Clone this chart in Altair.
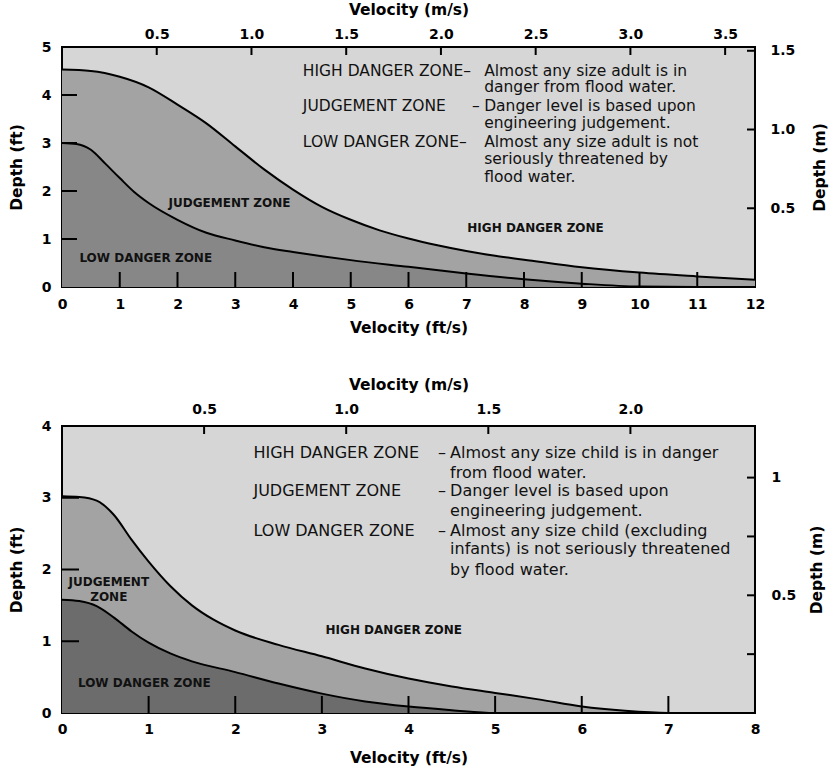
import altair as alt
import pandas as pd

FT_PER_M = 3.28084

# ---------------- data ----------------
# Adult chart (top)
adult_upper_v = [0, 0.5, 1, 1.5, 2, 2.5, 3, 3.5, 4, 4.5, 5, 5.5, 6, 6.5, 7, 7.5, 8, 9, 10, 11, 12]
adult_upper_d = [4.53, 4.50, 4.38, 4.16, 3.80, 3.41, 2.93, 2.45, 2.03, 1.67, 1.40, 1.18, 1.01, 0.87, 0.75,
                 0.65, 0.57, 0.41, 0.30, 0.22, 0.15]
adult_lower_v = [0, 0.25, 0.5, 0.75, 1, 1.25, 1.5, 2, 2.5, 3, 3.5, 4, 4.5, 5, 6, 7, 8, 9, 10, 11, 12]
adult_lower_d = [3.00, 2.98, 2.86, 2.57, 2.27, 1.98, 1.75, 1.40, 1.13, 0.97, 0.83, 0.73, 0.64, 0.56, 0.42,
                 0.28, 0.16, 0.07, 0.01, 0.0, 0.0]

# Child chart (bottom)
child_upper_v = [0, 0.2, 0.4, 0.6, 0.8, 1.0, 1.25, 1.5, 1.75, 2.0, 2.5, 3.0, 3.5, 4.0, 4.5, 5.0, 5.5, 6.0, 6.5, 7.0, 8.0]
child_upper_d = [3.02, 3.01, 2.96, 2.76, 2.42, 2.11, 1.77, 1.50, 1.30, 1.15, 0.95, 0.79, 0.62, 0.48, 0.37,
                 0.28, 0.19, 0.09, 0.03, 0.0, 0.0]
child_lower_v = [0, 0.2, 0.4, 0.6, 0.8, 1.0, 1.25, 1.5, 2.0, 2.5, 3.0, 3.5, 4.0, 4.5, 5.0, 8.0]
child_lower_d = [1.58, 1.56, 1.49, 1.33, 1.14, 0.98, 0.83, 0.72, 0.57, 0.41, 0.27, 0.16, 0.09, 0.04, 0.0, 0.0]

# tick values
adult_x_ticks = list(range(0, 13))
adult_y_ticks = [0, 1, 2, 3, 4, 5]
adult_ms_ticks = [0.5, 1.0, 1.5, 2.0, 2.5, 3.0, 3.5]
adult_m_ticks = [0.5, 1.0, 1.5]

child_x_ticks = list(range(0, 9))
child_y_ticks = [0, 1, 2, 3, 4]
child_ms_ticks = [0.5, 1.0, 1.5, 2.0]
child_m_ticks = [0.25, 0.5, 0.75, 1.0]

# text
zone_names = ["HIGH DANGER ZONE", "JUDGEMENT ZONE", "LOW DANGER ZONE"]
adult_desc = ["Almost any size adult is in", "danger from flood water.",
              "Danger level is based upon", "engineering judgement.",
              "Almost any size adult is not", "seriously threatened by", "flood water."]
child_desc = ["Almost any size child is in danger", "from flood water.",
              "Danger level is based upon", "engineering judgement.",
              "Almost any size child (excluding", "infants) is not seriously threatened",
              "by flood water."]

# ---------------- styles ----------------
LIGHT = "#d6d6d6"
MID = "#a3a3a3"
FONT = "DejaVu Sans"


def panel(W, H, xmax, ymax, up_v, up_d, lo_v, lo_d, low_color,
          x_ticks, y_ticks, ms_ticks, m_ticks, m_label_expr,
          texts, zone_labels, txt_size, tick_len_b, tick_len_l, pads):
    XS = alt.Scale(domain=[0, xmax], nice=False, zero=True)
    YS = alt.Scale(domain=[0, ymax], nice=False, zero=True)

    up = pd.DataFrame({"v": up_v, "d": up_d})
    lo = pd.DataFrame({"v": lo_v, "d": lo_d})

    bottom_axis = alt.Axis(orient="bottom", values=x_ticks, format="d", title="Velocity (ft/s)",
                           labelPadding=pads["b_lp"], titlePadding=pads["b_tp"])
    left_axis = alt.Axis(orient="left", values=y_ticks, format="d", title="Depth (ft)",
                         labelPadding=pads["l_lp"], titlePadding=pads["l_tp"])
    top_axis = alt.Axis(orient="top", values=[m * FT_PER_M for m in ms_ticks],
                        labelExpr="format(datum.value / 3.28084, '.1f')",
                        title="Velocity (m/s)", labelPadding=pads["t_lp"], titlePadding=pads["t_tp"])
    right_axis = alt.Axis(orient="right", values=[m * FT_PER_M for m in m_ticks],
                          labelExpr=m_label_expr, title="Depth (m)", titleAngle=270,
                          labelPadding=pads["r_lp"], titlePadding=pads["r_tp"])

    judg_area = alt.Chart(up).mark_area(color=MID, interpolate="monotone").encode(
        x=alt.X("v:Q", scale=XS, axis=bottom_axis),
        y=alt.Y("d:Q", scale=YS, axis=left_axis),
    )
    judg_line = alt.Chart(up).mark_line(color="black", strokeWidth=2, interpolate="monotone").encode(
        x=alt.X("v:Q", scale=XS, axis=None),
        y=alt.Y("d:Q", scale=YS, axis=None),
    )
    low_area = alt.Chart(lo).mark_area(color=low_color, interpolate="monotone").encode(
        x=alt.X("v:Q", scale=XS, axis=None),
        y=alt.Y("d:Q", scale=YS, axis=None),
    )
    low_line = alt.Chart(lo).mark_line(color="black", strokeWidth=2, interpolate="monotone").encode(
        x=alt.X("v:Q", scale=XS, axis=None),
        y=alt.Y("d:Q", scale=YS, axis=None),
    )
    inner_x = [t for t in x_ticks if 0 < t < xmax]
    inner_y = [t for t in y_ticks if 0 < t < ymax]
    b_ticks = alt.Chart(pd.DataFrame({"t": inner_x})).mark_rule(color="black", strokeWidth=2).encode(
        x=alt.X("t:Q", scale=XS, axis=None),
        y=alt.value(H), y2=alt.value(H - tick_len_b),
    )
    l_ticks = alt.Chart(pd.DataFrame({"t": inner_y})).mark_rule(color="black", strokeWidth=2).encode(
        y=alt.Y("t:Q", scale=YS, axis=None),
        x=alt.value(0), x2=alt.value(tick_len_l),
    )
    t_ticks = alt.Chart(pd.DataFrame({"t": ms_ticks})).transform_calculate(
        ft="datum.t * 3.28084").mark_rule(color="black", strokeWidth=2).encode(
        x=alt.X("ft:Q", scale=XS, axis=top_axis),
        y=alt.value(0), y2=alt.value(8),
    )
    r_ticks = alt.Chart(pd.DataFrame({"t": m_ticks})).transform_calculate(
        ft="datum.t * 3.28084").mark_rule(color="black", strokeWidth=2).encode(
        y=alt.Y("ft:Q", scale=YS, axis=right_axis),
        x=alt.value(W), x2=alt.value(W - 8),
    )
    txt = alt.Chart(pd.DataFrame(texts)).mark_text(
        align="left", baseline="middle", font=FONT, fontSize=txt_size, color="#111"
    ).encode(
        x=alt.X("v:Q", scale=XS, axis=None),
        y=alt.Y("d:Q", scale=YS, axis=None),
        text="text:N",
    )
    zones = alt.Chart(pd.DataFrame(zone_labels)).mark_text(
        align="center", baseline="middle", font=FONT, fontSize=12, fontWeight="bold", color="#111"
    ).encode(
        x=alt.X("v:Q", scale=XS, axis=None),
        y=alt.Y("d:Q", scale=YS, axis=None),
        text="text:N",
    )
    return alt.layer(
        judg_area, low_area, judg_line, low_line, b_ticks, l_ticks, t_ticks, r_ticks, txt, zones
    ).resolve_scale(x="independent", y="independent").properties(width=W, height=H)


# ---------- annotation layout (data units) ----------
a_rows = [4.51, 4.16, 3.77, 3.42, 3.02, 2.67, 2.30]
adult_texts = (
    [{"v": 4.17, "d": a_rows[0], "text": zone_names[0] + "–"},
     {"v": 4.17, "d": a_rows[2], "text": zone_names[1]},
     {"v": 7.10, "d": a_rows[2], "text": "–"},
     {"v": 4.17, "d": a_rows[4], "text": zone_names[2] + "–"}]
    + [{"v": 7.31, "d": a_rows[i], "text": adult_desc[i]} for i in range(7)]
)
adult_zones = [
    {"v": 2.90, "d": 1.74, "text": "JUDGEMENT ZONE"},
    {"v": 8.20, "d": 1.22, "text": "HIGH DANGER ZONE"},
    {"v": 1.45, "d": 0.60, "text": "LOW DANGER ZONE"},
]

c_rows = [3.63, 3.35, 3.09, 2.82, 2.54, 2.28, 2.00]
child_texts = (
    [{"v": 2.21, "d": c_rows[0], "text": zone_names[0]},
     {"v": 2.21, "d": c_rows[2], "text": zone_names[1]},
     {"v": 2.21, "d": c_rows[4], "text": zone_names[2]}]
    + [{"v": 4.34, "d": c_rows[r], "text": "–"} for r in (0, 2, 4)]
    + [{"v": 4.48, "d": c_rows[i], "text": child_desc[i]} for i in range(7)]
)
child_zones = [
    {"v": 0.54, "d": 1.83, "text": "JUDGEMENT"},
    {"v": 0.54, "d": 1.62, "text": "ZONE"},
    {"v": 3.83, "d": 1.16, "text": "HIGH DANGER ZONE"},
    {"v": 0.95, "d": 0.42, "text": "LOW DANGER ZONE"},
]

top = panel(693, 240, 12, 5, adult_upper_v, adult_upper_d, adult_lower_v, adult_lower_d, "#878787",
            adult_x_ticks, adult_y_ticks, adult_ms_ticks, adult_m_ticks,
            "format(datum.value / 3.28084, '.1f')",
            adult_texts, adult_zones, 15.5, 15, 15,
            {"b_lp": 10, "b_tp": 9, "l_lp": 11, "l_tp": 17, "t_lp": 6, "t_tp": 10,
             "r_lp": 15, "r_tp": 33})

bottom = panel(693, 287, 8, 4, child_upper_v, child_upper_d, child_lower_v, child_lower_d, "#6c6c6c",
               child_x_ticks, child_y_ticks, child_ms_ticks, child_m_ticks,
               "abs(datum.value / 3.28084 - 1) < 0.01 ? '1' : (abs(datum.value / 3.28084 - 0.5) < 0.01 ? '0.5' : '')",
               child_texts, child_zones, 16, 17, 17,
               {"b_lp": 9, "b_tp": 14, "l_lp": 11, "l_tp": 17, "t_lp": 10, "t_tp": 10,
                "r_lp": 16, "r_tp": 29})

chart = alt.vconcat(top, bottom, spacing=39).properties(
    padding={"left": 8, "top": 1, "right": 0, "bottom": 0},
    background="white",
).configure_view(
    fill=LIGHT, stroke="black", strokeWidth=2
).configure_axis(
    labelFont=FONT, labelFontWeight="bold", labelFontSize=14, labelColor="black",
    titleFont=FONT, titleFontWeight="bold", titleFontSize=15.5, titleColor="black",
    ticks=False, tickSize=0, domain=False, grid=False,
    labelFlush=False, labelOverlap=False,
)

chart.save("out.html", embed_options={"renderer": "svg", "actions": False})
